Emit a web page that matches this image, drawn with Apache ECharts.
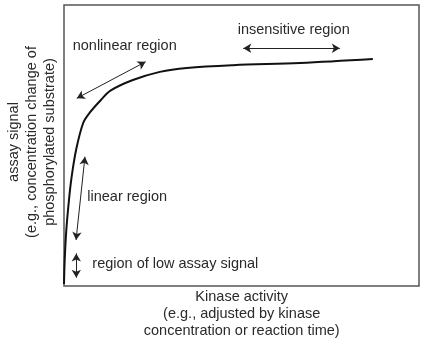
<!DOCTYPE html>
<html>
<head>
<meta charset="utf-8">
<script src="https://cdn.jsdelivr.net/npm/echarts@6/dist/echarts.min.js"></script>
<style>html,body{margin:0;padding:0;background:#fff;}#c{width:445px;height:347px;}</style>
</head>
<body>
<div id="c"></div>
<script>
// Curve: kinase activity (x) vs assay signal (y), arbitrary units 0..100
var activity = [0, 0.2, 0.65, 1.4, 2.1, 3.4, 5.4, 7.2, 10.4, 13.2, 19.4, 27.0, 34.6, 47.6, 66.5, 87.0];
var signal   = [0.7, 9.3, 19.9, 30.6, 38.4, 48.4, 58.0, 61.6, 66.2, 69.6, 73.3, 76.2, 77.6, 78.6, 79.4, 80.8];

// Double-headed annotation arrows [x1, y1, x2, y2] in data units
var arrowNonlinear   = [3.6, 66.8, 23.0, 79.8];
var arrowInsensitive = [50.5, 84.6, 77.7, 84.6];
var arrowLinear      = [5.9, 46.0, 3.4, 16.4];
var arrowLow         = [3.46, 11.6, 3.46, 2.95];
var arrows = [arrowNonlinear, arrowInsensitive, arrowLinear, arrowLow];

var labelTexts = ['nonlinear region', 'insensitive region', 'linear region', 'region of low assay signal'];
var xTitle = 'Kinase activity\n(e.g., adjusted by kinase\nconcentration or reaction time)';
var yTitle = 'assay signal\n(e.g., concentration change of\nphosphorylated substrate)';

var FONT = '"Liberation Sans", Arial, Helvetica, sans-serif';
var TXT = '#2a2a2a';

var chart = echarts.init(document.getElementById('c'));
var curve = activity.map(function (x, i) { return [x, signal[i]]; });
var labelPos = [[72.7, 45.7], [237.7, 30], [87.3, 197.3], [92.3, 264.3]];

var graphics = labelTexts.map(function (t, i) {
  return { type: 'text', x: labelPos[i][0], y: labelPos[i][1], silent: true,
    style: { text: t, fontSize: 14.5, fontFamily: FONT, fill: TXT, align: 'left', verticalAlign: 'middle' } };
});
graphics.push({ type: 'text', x: 241.7, y: 314, silent: true,
  style: { text: xTitle, fontSize: 14.5, fontFamily: FONT, fill: TXT, align: 'center', verticalAlign: 'middle', lineHeight: 17 } });
graphics.push({ type: 'text', x: 31.5, y: 142, rotation: Math.PI / 2, silent: true,
  style: { text: yTitle, fontSize: 14.5, fontFamily: FONT, fill: TXT, align: 'center', verticalAlign: 'middle', lineHeight: 18 } });

chart.setOption({
  animation: false,
  backgroundColor: '#fff',
  grid: { left: 64, right: 26, top: 5, bottom: 61, show: true, borderColor: '#555', borderWidth: 1.5, backgroundColor: 'transparent' },
  xAxis: { type: 'value', min: 0, max: 100, axisLine: { show: false }, axisTick: { show: false }, axisLabel: { show: false }, splitLine: { show: false } },
  yAxis: { type: 'value', min: 0, max: 100, axisLine: { show: false }, axisTick: { show: false }, axisLabel: { show: false }, splitLine: { show: false } },
  series: [{
    type: 'line',
    data: curve,
    smooth: 0.35,
    showSymbol: false,
    symbol: 'none',
    lineStyle: { color: '#111', width: 2 },
    markLine: {
      silent: true,
      animation: false,
      symbol: ['arrow', 'arrow'],
      symbolSize: [7, 8],
      label: { show: false },
      lineStyle: { color: '#222', width: 1, type: 'solid' },
      emphasis: { disabled: true },
      data: arrows.map(function (a) { return [{ coord: [a[0], a[1]] }, { coord: [a[2], a[3]] }]; })
    }
  }],
  graphic: graphics
});
</script>
</body>
</html>
